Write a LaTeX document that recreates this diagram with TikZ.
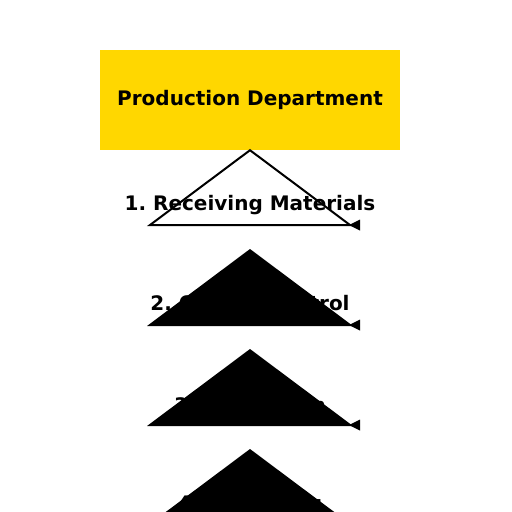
\documentclass[tikz,border=0pt]{standalone}
\usepackage{fontspec}
\setmainfont{DejaVu Sans}
\usepackage{tikz}
\usetikzlibrary{arrows.meta, positioning}
\definecolor{deptgold}{HTML}{FFD700}
\frenchspacing

\tikzset{
  dept/.style={fill=deptgold, minimum width=300pt, minimum height=100pt, inner sep=0pt, font=\bfseries\fontsize{20}{24}\selectfont},
  stage/.style={inner sep=0pt, font=\bfseries\fontsize{20}{24}\selectfont},
  wedge/.style={line width=2pt, line join=miter},
  wedgetip/.style={fill=black}
}

\begin{document}
\begin{tikzpicture}[x=1pt, y=-1pt]
\useasboundingbox (0,0) rectangle (512,512);

% Department box at the top
\node[dept] (dept) at (250,100) {Production Department};

% Stage labels
\node[stage] (recv) at (250,205) {1. Receiving Materials};
\node[stage] (qual) at (250,305) {2. Quality Control};
\node[stage] (prod) at (250,405) {3. Production};
\node[stage] (pack) at (250,505) {4. Packaging};

% First wedge, outline only
\draw[wedge] (dept.south) -- (150,225) -- (350,225) -- cycle;
\fill[wedgetip] (349,225) -- (360,219.5) -- (360,230.5) -- cycle;

% Remaining wedges, filled over their labels
\fill (250,249) -- (147,326) -- (353,326) -- cycle;
\fill[wedgetip] (349,325) -- (360,319.5) -- (360,330.5) -- cycle;

\fill (250,349) -- (147,426) -- (353,426) -- cycle;
\fill[wedgetip] (349,425) -- (360,419.5) -- (360,430.5) -- cycle;

\fill (250,449) -- (147,526) -- (353,526) -- cycle;

\end{tikzpicture}
\end{document}
